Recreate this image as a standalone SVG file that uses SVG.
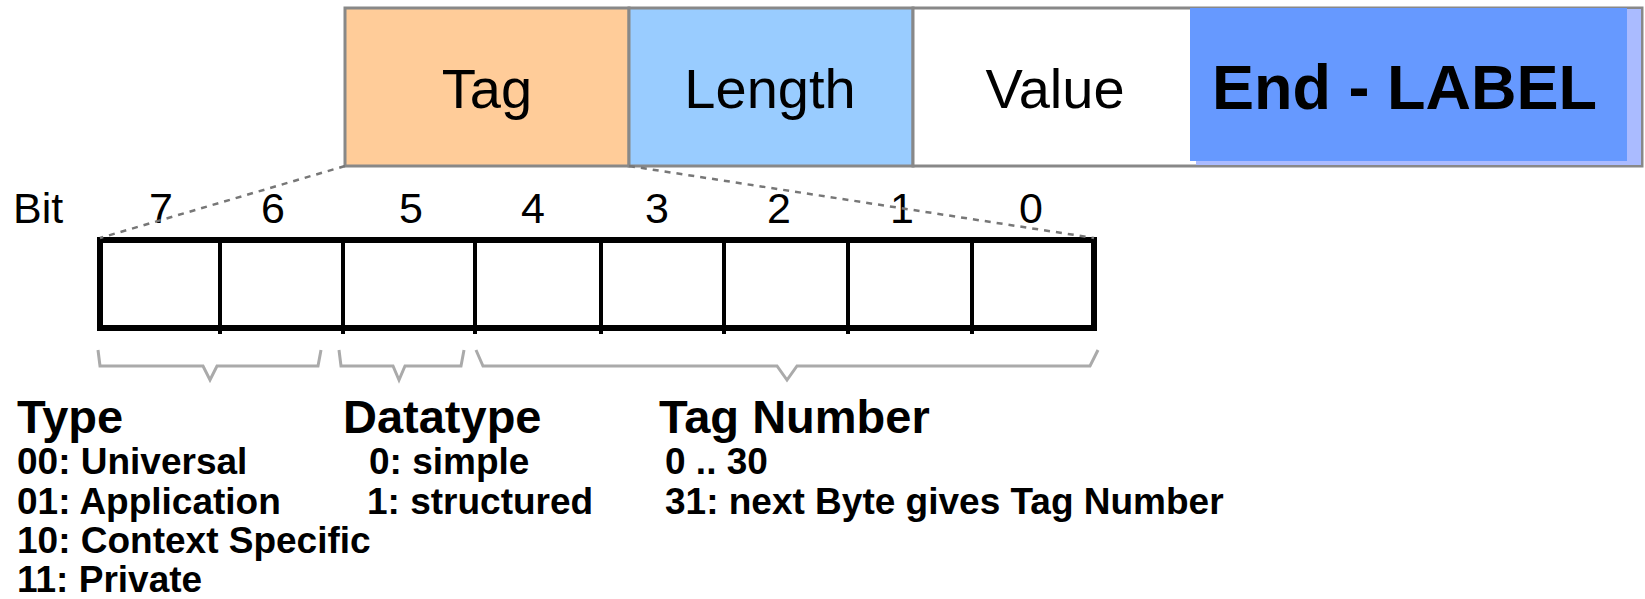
<svg xmlns="http://www.w3.org/2000/svg" width="1645" height="599" viewBox="0 0 1645 599">
<defs>
<style>
.fld{stroke:#888;stroke-width:3}
.lbl{font-family:"Liberation Sans",Arial,sans-serif;font-size:56px;fill:#000;text-anchor:middle}
.bit{font-family:"Liberation Sans",Arial,sans-serif;font-size:43px;fill:#000;text-anchor:middle}
.bitl{font-family:"Liberation Sans",Arial,sans-serif;font-size:43px;fill:#000}
.big{font-family:"Liberation Sans",Arial,sans-serif;font-weight:bold;font-size:63px;fill:#000}
.h{font-family:"Liberation Sans",Arial,sans-serif;font-weight:bold;font-size:47px;fill:#000}
.s{font-family:"Liberation Sans",Arial,sans-serif;font-weight:bold;font-size:37px;fill:#000}
.cell{fill:none;stroke:#000;stroke-width:4}
.dash{fill:none;stroke:#777;stroke-width:2.5;stroke-dasharray:6 6}
.brace{fill:none;stroke:#aaa;stroke-width:3}
</style>
</defs>
<rect width="1645" height="599" fill="#fff"/>
<g id="tag"><rect class="fld" x="345" y="8" width="284" height="158" fill="#ffcc99"/><text class="lbl" x="487" y="108">Tag</text></g>
<g id="length"><rect class="fld" x="629" y="8" width="284" height="158" fill="#99ccff"/><text class="lbl" x="770" y="108">Length</text></g>
<g id="value"><rect class="fld" x="913" y="8" width="729" height="158" fill="#fff"/><text class="lbl" x="1055" y="108">Value</text></g>
<g id="end-label"><rect x="1196" y="9" width="445" height="156" fill="#aabbff"/><rect x="1190" y="8" width="437" height="153" fill="#6699ff"/><text class="big" x="1212" y="109" textLength="385" lengthAdjust="spacingAndGlyphs">End - LABEL</text></g>
<g id="bits">
<text class="bitl" x="13" y="223">Bit</text>
<text class="bit" x="161" y="223">7</text>
<text class="bit" x="273" y="223">6</text>
<text class="bit" x="411" y="223">5</text>
<text class="bit" x="533" y="223">4</text>
<text class="bit" x="657" y="223">3</text>
<text class="bit" x="779" y="223">2</text>
<text class="bit" x="902" y="223">1</text>
<text class="bit" x="1031" y="223">0</text>
</g>
<g id="byte">
<rect x="100" y="240" width="994" height="88" fill="#fff" stroke="#000" stroke-width="6"/>
<path class="cell" d="M220,240V334M343,240V334M475,240V334M601,240V334M724,240V334M848,240V334M972,240V334"/>
</g>
<g id="connectors">
<path class="dash" d="M345,166L100,238"/>
<path class="dash" d="M629,166L1094,238"/>
<path class="brace" d="M98,350L100,366H203L210,380L217,366H318L321,350"/>
<path class="brace" d="M339,350L341,366H393L399,380L405,366H461L464,350"/>
<path class="brace" d="M476,350L483,366H777L787,380L797,366H1090L1098,350"/>
</g>
<g id="type">
<text class="h" x="17" y="433">Type</text>
<text class="s" x="17" y="474">00: Universal</text>
<text class="s" x="17" y="514">01: Application</text>
<text class="s" x="17" y="553">10: Context Specific</text>
<text class="s" x="17" y="592">11: Private</text>
</g>
<g id="datatype">
<text class="h" x="343" y="433">Datatype</text>
<text class="s" x="369" y="474">0: simple</text>
<text class="s" x="367" y="514">1: structured</text>
</g>
<g id="tagnumber">
<text class="h" x="659" y="433">Tag Number</text>
<text class="s" x="665" y="474">0 .. 30</text>
<text class="s" x="665" y="514">31: next Byte gives Tag Number</text>
</g>
</svg>
